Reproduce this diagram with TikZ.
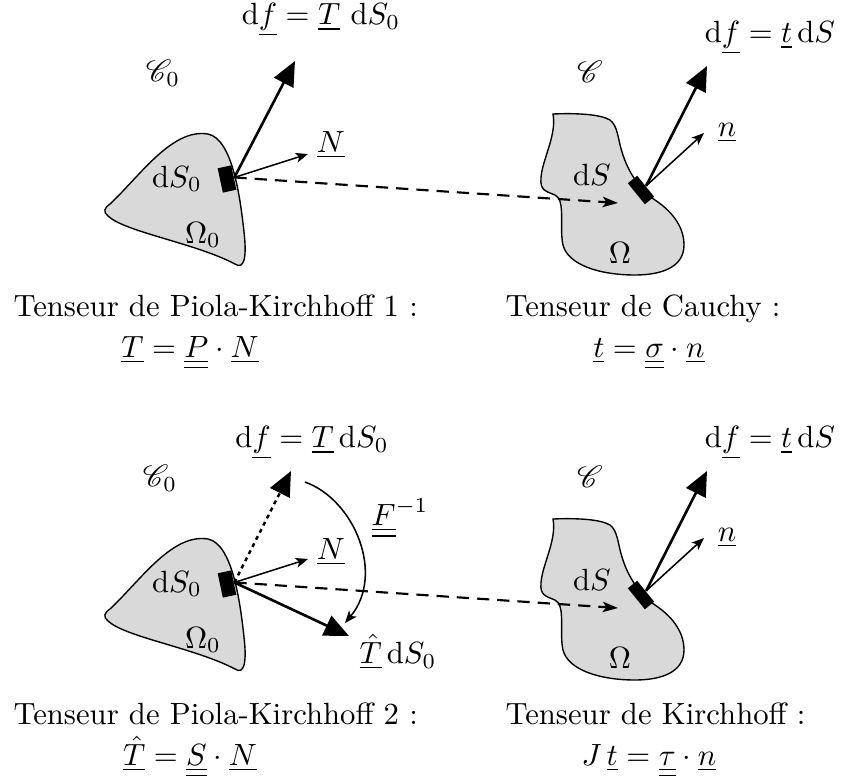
\documentclass[tikz,border=0pt]{standalone}
\usepackage{amsmath}
\usepackage{mathrsfs}
\usetikzlibrary{arrows.meta}
\newcommand{\vu}[1]{\underline{#1}}
\newcommand{\tu}[1]{\underline{\underline{#1}}}
\newcommand{\dd}{\mathrm{d}}
\newcommand{\blobLeft}{(110,204) .. controls (140,176) and (172,128) .. (208,134)
 .. controls (232,139) and (240,195) .. (244,232)
 .. controls (247,258) and (244,270) .. (235,264)
 .. controls (195,243) and (125,232) .. (108,216)
 .. controls (103,212) and (104,208) .. (110,204) -- cycle}
\newcommand{\blobRight}{(553,114) .. controls (575,113) and (600,114) .. (610,120)
 .. controls (618,126) and (618,140) .. (622,152)
 .. controls (628,172) and (640,190) .. (655,200)
 .. controls (670,210) and (684,225) .. (684,245)
 .. controls (684,268) and (660,275) .. (635,275)
 .. controls (600,275) and (568,265) .. (563,245)
 .. controls (559,228) and (566,200) .. (555,195)
 .. controls (545,191) and (540,190) .. (541,178)
 .. controls (542,160) and (557,135) .. (553,114) -- cycle}
\tikzset{
  blob/.style={draw=black, line width=0.45pt, fill=black!15},
  patch/.style={rectangle, fill=black, inner sep=0pt},
  bigarrow/.style={line width=0.85pt, -{Triangle[length=8pt,width=7pt]}},
  thinarrow/.style={line width=0.5pt, -{Stealth[length=4pt,width=3.2pt,inset=1pt]}},
  dasharrow/.style={line width=0.7pt, dash pattern=on 4pt off 2.6pt, -{Stealth[length=5pt,width=3.4pt,inset=1.2pt]}},
  dotarrow/.style={line width=0.8pt, dash pattern=on 1.3pt off 1.3pt, -{Triangle[length=8pt,width=7pt]}},
  curvarrow/.style={line width=0.5pt, -{Stealth[length=4pt,width=3.2pt,inset=1pt]}},
  lab/.style={inner sep=0pt},
  captxt/.style={inner sep=0pt, anchor=base west},
  capmath/.style={inner sep=0pt, anchor=base}
}
\begin{document}
\begin{tikzpicture}[x=0.3257pt,y=-0.3257pt]
\useasboundingbox (0,0) rectangle (845,776);
% ---------- top left ----------
\draw[blob] \blobLeft;
\node[patch, minimum width=4.5pt, minimum height=8.1pt, rotate=12] (dA) at (227,179) {};
\coordinate (fA) at (295,61);
\coordinate (nA) at (308,154);
\draw[bigarrow] (dA.east) -- (fA);
\draw[thinarrow] (dA.east) -- (nA);
\node[lab] (lfA) at (321,20) {$\dd\vu{f} = \vu{T}\ \dd S_0$};
\node[lab] (cA) at (163,73) {$\mathscr{C}_0$};
\node[lab] (lnA) at (331,145) {$\vu{N}$};
\node[lab] (sA) at (177,179) {$\dd S_0$};
\node[lab] (oA) at (203,235) {$\Omega_0$};
% ---------- top right ----------
\draw[blob] \blobRight;
\node[patch, minimum width=8.8pt, minimum height=3.9pt, rotate=-51] (dB) at (641,190) {};
\coordinate (fB) at (707,66);
\coordinate (nB) at (704,133);
\coordinate (tB) at (618,203);
\draw[bigarrow] (dB.north) -- (fB);
\draw[thinarrow] (dB.north) -- (nB);
\draw[dasharrow] (dA.east) -- (tB);
\node[lab] (lfB) at (770,38) {$\dd\vu{f} = \vu{t}\,\dd S$};
\node[lab] (cB) at (590,72) {$\mathscr{C}$};
\node[lab] (lnB) at (727,133) {$\vu{n}$};
\node[lab] (sB) at (592,175) {$\dd S$};
\node[lab] (oB) at (620,253) {$\Omega$};
% ---------- top captions ----------
\node[captxt] (capA) at (13,316) {Tenseur de Piola-Kirchhoff 1 :};
\node[capmath] (eqA) at (190,357) {$\vu{T} = \tu{P}\cdot\vu{N}$};
\node[captxt] (capB) at (505,316) {Tenseur de Cauchy :};
\node[capmath] (eqB) at (649,357) {$\vu{t} = \tu{\sigma}\cdot\vu{n}$};
% ---------- bottom left ----------
\begin{scope}[shift={(0,405)}]
\draw[blob] \blobLeft;
\draw[blob] \blobRight;
\end{scope}
\node[patch, minimum width=4.5pt, minimum height=8.1pt, rotate=12] (dC) at (227,584) {};
\coordinate (fC) at (291,471);
\coordinate (nC) at (308,559);
\coordinate (hC) at (349,636);
\coordinate (aC) at (305,482);
\coordinate (bC) at (345,623);
\draw[dotarrow] (dC.east) -- (fC);
\draw[thinarrow] (dC.east) -- (nC);
\draw[bigarrow] (dC.east) -- (hC);
\draw[curvarrow] (aC) .. controls (355,500) and (385,575) .. (bC);
\node[lab] (lfC) at (312,443) {$\dd\vu{f} = \vu{T}\,\dd S_0$};
\node[lab] (cC) at (160,478) {$\mathscr{C}_0$};
\node[lab] (lnC) at (331,552) {$\vu{N}$};
\node[lab] (lF) at (400,518) {$\tu{F}^{-1}$};
\node[lab] (lhC) at (398,652) {$\vu{\hat{T}}\,\dd S_0$};
\node[lab] (sC) at (177,584) {$\dd S_0$};
\node[lab] (oC) at (203,640) {$\Omega_0$};
% ---------- bottom right ----------
\node[patch, minimum width=8.8pt, minimum height=3.9pt, rotate=-51] (dD) at (641,595) {};
\coordinate (fD) at (707,471);
\coordinate (nD) at (704,538);
\coordinate (tD) at (618,608);
\draw[bigarrow] (dD.north) -- (fD);
\draw[thinarrow] (dD.north) -- (nD);
\draw[dasharrow] (dC.east) -- (tD);
\node[lab] (lfD) at (770,443) {$\dd\vu{f} = \vu{t}\,\dd S$};
\node[lab] (cD) at (590,477) {$\mathscr{C}$};
\node[lab] (lnD) at (727,538) {$\vu{n}$};
\node[lab] (sD) at (592,580) {$\dd S$};
\node[lab] (oD) at (620,658) {$\Omega$};
% ---------- bottom captions ----------
\node[captxt] (capC) at (13,724) {Tenseur de Piola-Kirchhoff 2 :};
\node[capmath] (eqC) at (190,765) {$\vu{\hat{T}} = \tu{S}\cdot\vu{N}$};
\node[captxt] (capD) at (505,724) {Tenseur de Kirchhoff :};
\node[capmath] (eqD) at (649,765) {$J\,\vu{t} = \tu{\tau}\cdot\vu{n}$};
\end{tikzpicture}
\end{document}
